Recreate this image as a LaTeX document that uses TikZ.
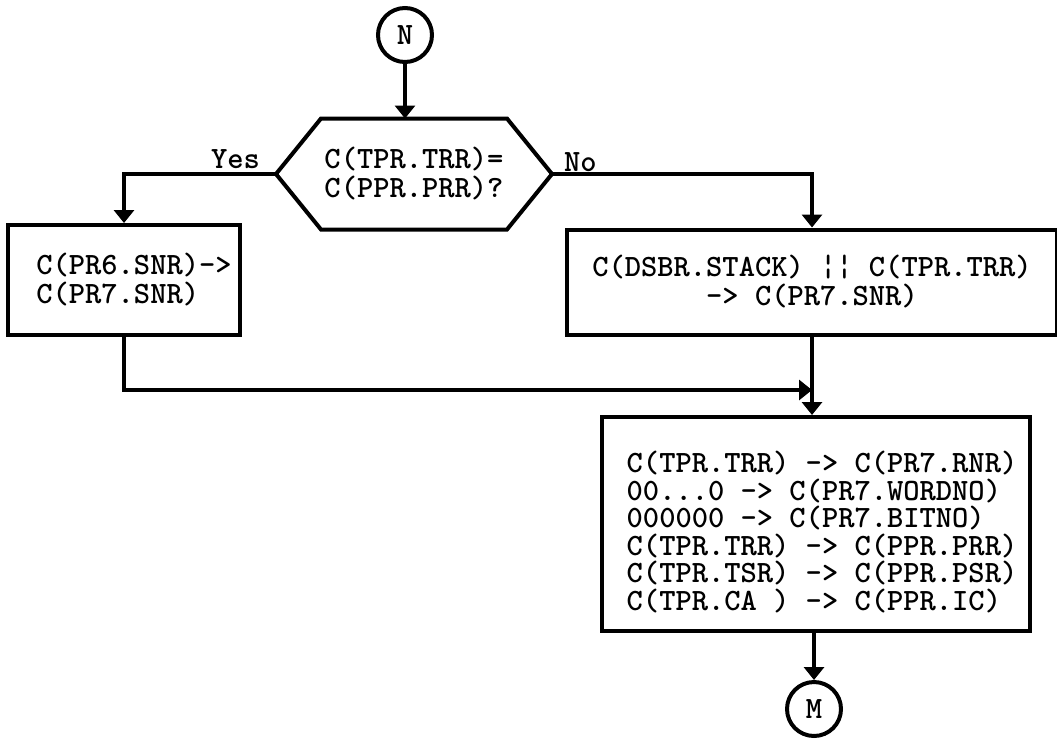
\documentclass[tikz,border=0pt]{standalone}
\usetikzlibrary{arrows.meta,calc}
\begin{document}
\begin{tikzpicture}[x=1pt,y=-1pt,
  line width=4pt, inner sep=0pt,
  font=\ttfamily\bfseries\fontsize{31}{29}\selectfont,
  tip/.style={-{Triangle[width=20pt,length=13pt]}},
  boxnode/.style={draw, rectangle},
  conn/.style={draw, circle, minimum size=54pt},
  ]
\useasboundingbox (0,0) rectangle (1057,745);
\node[conn] (N) at (405,35) {N};
\node[minimum width=272pt, minimum height=107pt, align=center] (dec) at (414,174) {C(TPR.TRR)=\\C(PPR.PRR)?};
\draw (dec.west) -- ($(dec.north west)+(45,0)$) -- ($(dec.north east)+(-45,0)$) -- (dec.east) -- ($(dec.south east)+(-45,0)$) -- ($(dec.south west)+(45,0)$) -- cycle;
\node[anchor=base east] (yes) at ($(dec.west)+(-14,-6)$) {Yes};
\node[anchor=base west] (no) at ($(dec.east)+(10,-3)$) {No};
\node[boxnode, minimum width=232pt, minimum height=110pt, align=left] (lbox) at (124,280) {\hspace*{20pt}C(PR6.SNR)->\\\hspace*{20pt}C(PR7.SNR)};
\node[boxnode, minimum width=490pt, minimum height=105pt, align=center] (rbox) at (812,282) {C(DSBR.STACK) ¦¦ C(TPR.TRR)\\-> C(PR7.SNR)};
\node[boxnode, minimum width=428pt, minimum height=214pt] (bbox) at (816,524) {};
\node[align=left, font=\ttfamily\bfseries\fontsize{31}{27.5}\selectfont] (btext) at ($(bbox.center)+(6,8)$) {C(TPR.TRR) -> C(PR7.RNR)\\00...0 -> C(PR7.WORDNO)\\000000 -> C(PR7.BITNO)\\C(TPR.TRR) -> C(PPR.PRR)\\C(TPR.TSR) -> C(PPR.PSR)\\C(TPR.CA\ ) -> C(PPR.IC)};
\node[conn] (M) at (814,709) {M};
\coordinate (j) at (rbox.south |- 0,390);
\draw[tip] (N) -- (N |- dec.north);
\draw[tip] (dec.west) -| (lbox.north);
\draw[tip] (dec.east) -| (rbox.north);
\draw[tip] (lbox.south) |- (j);
\draw[tip] (rbox.south) -- (rbox.south |- bbox.north);
\draw[tip] (M |- bbox.south) -- (M.north);
\end{tikzpicture}
\end{document}
